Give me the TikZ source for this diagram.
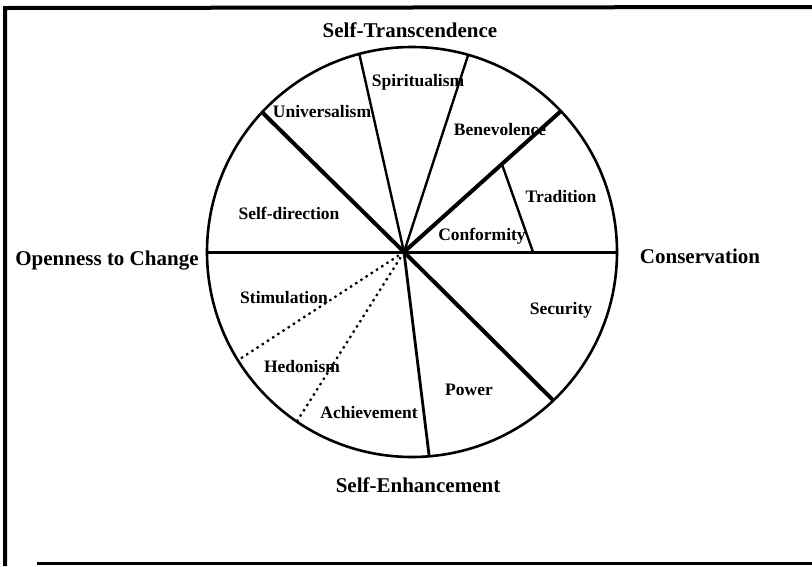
\documentclass[tikz,border=0pt]{standalone}
\usepackage{fontspec}
\setmainfont{Liberation Serif}
\usetikzlibrary{calc}
\tikzset{
  big/.style={font=\fontsize{21}{21}\selectfont\bfseries, inner sep=0pt},
  small/.style={font=\fontsize{17.5}{17.5}\selectfont\bfseries, inner sep=0pt},
  thickspoke/.style={line width=4pt},
  thinspoke/.style={line width=2.4pt},
  dotspoke/.style={line width=2.2pt, dash pattern=on 2.4pt off 3.8pt},
  framel/.style={line width=4pt},
}
\begin{document}
\begin{tikzpicture}[x=1pt,y=-1pt]
\useasboundingbox (0,0) rectangle (812,566);
% frame
\draw[framel] (812,7) -- (5,8) -- (5,566);
\draw[line width=3pt] (37,563.5) -- (812,563.5);
% circle
\coordinate (C) at (412,252);
\coordinate (H) at (404,252);
\draw[line width=2.6pt] (C) circle[radius=205];
% endpoints on circle
\coordinate (pL) at (207,252);
\coordinate (pR) at (617,252);
\coordinate (p1) at (262.1,112.2);
\coordinate (p2) at (359.3,53.9);
\coordinate (p3) at (468.2,54.9);
\coordinate (p4) at (560.9,111.1);
\coordinate (p5) at (553.4,400.5);
\coordinate (p6) at (429.2,456.3);
\coordinate (p7) at (296.8,421.6);
\coordinate (p8) at (237.9,360.3);
\coordinate (q1) at ($(H)!0.624!(p4)$);
\coordinate (q2) at (533,252);
% spokes
\draw[line width=3pt] (pL) -- (pR);
\draw[thickspoke] (H) -- (p1);
\draw[thinspoke] (H) -- (p2);
\draw[thinspoke] (H) -- (p3);
\draw[thickspoke] (H) -- (p4);
\draw[thickspoke] (H) -- (p5);
\draw[line width=2.8pt] (H) -- (p6);
\draw[dotspoke] (H) -- (p7);
\draw[dotspoke] (H) -- (p8);
\draw[thinspoke] (q1) -- (q2);
% outer labels
\node[big] (st) at (410,30) {Self-Transcendence};
\node[big] (oc) at (107,261) {Openness to Change};
\node[big] (cs) at (700,256) {Conservation};
\node[big] (se) at (418,485) {Self-Enhancement};
% sector labels
\node[small] (spi) at (418,82) {Spiritualism};
\node[small] (uni) at (322,112) {Universalism};
\node[small] (ben) at (500,130) {Benevolence};
\node[small] (sd) at (289,213) {Self-direction};
\node[small] (tra) at (561,197) {Tradition};
\node[small] (con) at (482,236) {Conformity};
\node[small] (sti) at (284,298) {Stimulation};
\node[small] (sec) at (561,310) {Security};
\node[small] (hed) at (302,367) {Hedonism};
\node[small] (pow) at (469,390) {Power};
\node[small] (ach) at (369,413) {Achievement};
\end{tikzpicture}
\end{document}
